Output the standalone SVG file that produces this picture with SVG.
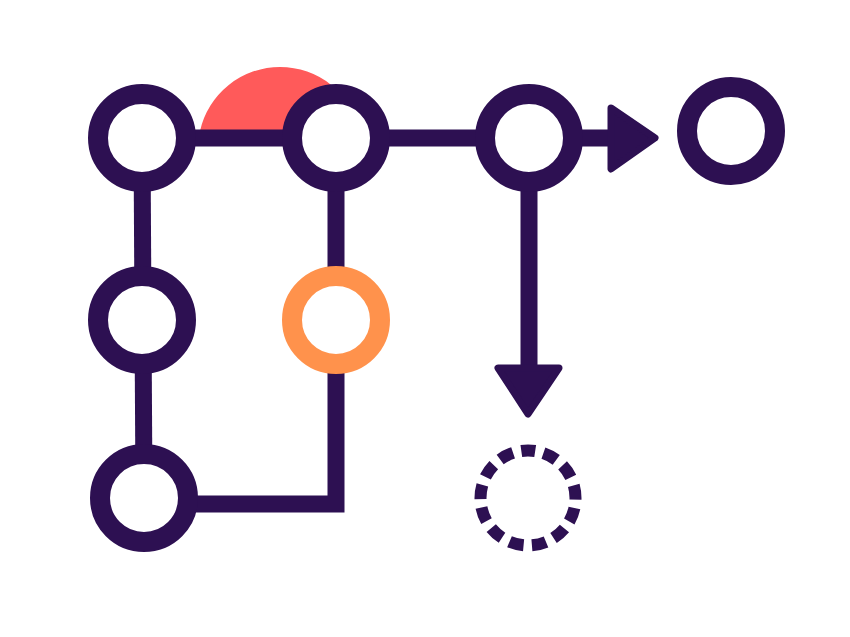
<svg xmlns="http://www.w3.org/2000/svg" width="850" height="637" viewBox="0 0 850 637">
<style>
.ring{fill:#fff;stroke:#2d1052;stroke-width:20}
.ring.orange{stroke:#ff924c}
.edge{fill:none;stroke:#2d1052;stroke-width:17}
.head{fill:#2d1052;stroke:#2d1052;stroke-width:7;stroke-linejoin:round}
.dashed{fill:none;stroke:#2d1052;stroke-width:12;stroke-dasharray:14.5 8.46;stroke-dashoffset:7.25}
</style>
<rect width="850" height="637" fill="#fff"/>
<path id="highlight" d="M200 131 A82 82 0 0 1 360 131 Z" fill="#ff5a5a"/>
<g id="connectors">
<line class="edge" x1="142" y1="138" x2="336" y2="138"/>
<line class="edge" x1="336" y1="138" x2="529" y2="138"/>
<line class="edge" x1="529" y1="138" x2="615" y2="138"/>
<polygon class="head" points="611,108 655,138 611,169"/>
<line class="edge" x1="529" y1="138" x2="529" y2="372"/>
<polygon class="head" points="498,368 559,368 528,414"/>
<line class="edge" x1="142" y1="138" x2="143" y2="320"/>
<line class="edge" x1="143" y1="320" x2="144" y2="498"/>
<line class="edge" x1="336" y1="138" x2="336" y2="320"/>
<polyline class="edge" points="336,320 336,504 144,504"/>
</g>
<g id="n1"><circle class="ring" cx="142" cy="138" r="44"/></g>
<g id="n2"><circle class="ring" cx="336" cy="138" r="44"/></g>
<g id="n3"><circle class="ring" cx="529" cy="138" r="44"/></g>
<g id="n4"><circle class="ring" cx="731" cy="131" r="44"/></g>
<g id="n5"><circle class="ring" cx="142" cy="320" r="44"/></g>
<g id="n6"><circle class="ring orange" cx="336" cy="320" r="44"/></g>
<g id="n7"><circle class="ring" cx="144" cy="498" r="44"/></g>
<g id="n8"><circle class="dashed" cx="0" cy="0" r="47.5" transform="translate(528 498) rotate(-90)"/></g>
</svg>
